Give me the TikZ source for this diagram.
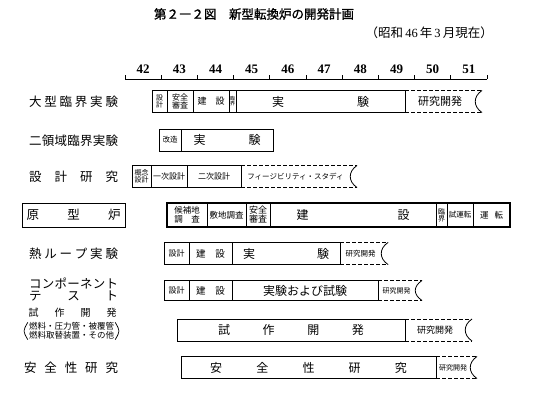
\documentclass[tikz,border=0pt]{standalone}
\usepackage{fontspec}
\setmainfont[AutoFakeBold=1.2]{Noto Sans CJK JP}
\newfontfamily\numfont{Liberation Serif}
\newcommand{\titlefont}{\fontsize{12.5}{14}\selectfont}
\newcommand{\labelfont}{\fontsize{12.5}{14}\selectfont}
\newcommand{\yearfont}{\numfont\bfseries\fontsize{13}{14}\selectfont}
\newcommand{\spread}[2]{\makebox[#1pt][s]{#2}}
\def\hh{11}
% one finished stage of a programme: name, row y, from x, to x, font size, text
\newcommand{\stage}[6]{%
  \draw[stageline] (#3,#2-\hh) rectangle (#4,#2+\hh);
  \node[stagetext,font=\fontsize{#5}{#5}\selectfont] (#1) at ({(#3+#4)/2},#2) {#6};
}
% open-ended stage, dashed with a torn end
\newcommand{\future}[6]{%
  \draw[futureline] (#3,#2-\hh) -- (#4,#2-\hh) (#3,#2+\hh) -- (#4,#2+\hh);
  \draw[stageline] (#4,#2-\hh) .. controls (#4-9,#2-\hh+6) and (#4-9,#2+\hh-6) .. (#4,#2+\hh);
  \node[stagetext,font=\fontsize{#5}{#5}\selectfont] (#1) at ({(#3+#4-7)/2},#2) {#6};
}

\begin{document}
\begin{tikzpicture}[x=1pt,y=-1pt,
  rowlabel/.style={inner sep=0pt,font=\labelfont},
  stagetext/.style={inner sep=0pt,align=center},
  stageline/.style={line width=0.8pt},
  futureline/.style={line width=0.8pt,dash pattern=on 4pt off 2pt}]
  \useasboundingbox (0,0) rectangle (548,406);

  \node[inner sep=0pt,font=\titlefont\bfseries] (title) at (254,14) {第２―２図　新型転換炉の開発計画};
  \node[anchor=east,inner sep=0pt,font=\titlefont] (date) at (493,33)
    {（昭和\,{\numfont 46}\,年\,{\numfont 3}\,月現在）};

  % year axis
  \draw[stageline] (125,79) -- (487,79);
  \foreach \i in {0,...,10}
    \draw[stageline] (125+36.2*\i,79) -- ++(0,-4);
  \foreach \yr [count=\i from 0] in {42,...,51}
    \node[inner sep=0pt,font=\yearfont] (yr\yr) at ({125+36.2*\i+18.1},69) {\yr};

  % large critical experiment
  \node[rowlabel] (lbl1) at (73.5,102) {\spread{89}{大\hfill 型\hfill 臨\hfill 界\hfill 実\hfill 験}};
  \stage{kdesign}{101.5}{152}{167}{7}{設\\計}
  \stage{ksafety}{101.5}{167}{193}{8}{安全\\審査}
  \stage{kbuild}{101.5}{193}{229}{9}{\spread{27}{建\hfill 設}}
  \stage{kcrit}{101.5}{229}{236}{5}{臨\\界}
  \stage{kexp}{101.5}{236}{405}{12}{\spread{97}{実\hfill 験}}
  \future{kdev}{101.5}{405}{482}{11}{研究開発}

  % two-region critical experiment
  \node[rowlabel] (lbl2) at (73.5,141) {\spread{89}{二\hfill 領\hfill 域\hfill 臨\hfill 界\hfill 実\hfill 験}};
  \stage{rmod}{140}{159}{181}{7.5}{改造}
  \stage{rexp}{140}{181}{273}{12}{\spread{67}{実\hfill 験}}

  % design study
  \node[rowlabel] (lbl3) at (73.5,177) {\spread{89}{設\hfill 計\hfill 研\hfill 究}};
  \stage{dconcept}{176.5}{132}{151}{7}{概念\\設計}
  \stage{dfirst}{176.5}{151}{187}{8}{一次設計}
  \stage{dsecond}{176.5}{187}{241}{8}{二次設計}
  \future{dstudy}{176.5}{241}{357}{7.5}{フィージビリティ・スタディ}

  % prototype reactor
  \def\hh{12}
  \node[rowlabel,draw,line width=1pt,minimum width=103,minimum height=24] (lbl4) at (73.5,215)
    {\spread{94}{原\hfill 型\hfill 炉}};
  \stage{psite}{215}{167}{207}{8.5}{候補地\\調　査}
  \stage{pground}{215}{207}{246}{8.5}{敷地調査}
  \stage{psafety}{215}{246}{270}{9}{安全\\審査}
  \stage{pbuild}{215}{270}{436}{12}{\spread{113}{建\hfill 設}}
  \stage{pcrit}{215}{436}{447}{7}{臨\\界}
  \stage{ptest}{215}{447}{473}{7.5}{試運転}
  \stage{prun}{215}{473}{510}{8.5}{\spread{23}{運\hfill 転}}
  \draw[line width=1.4pt] (167,203) rectangle (510,227);
  \def\hh{11}

  % heat loop experiment
  \node[rowlabel] (lbl5) at (73.5,253.5) {\spread{89}{熱\hfill ル\hfill ー\hfill プ\hfill 実\hfill 験}};
  \stage{ldesign}{253.5}{164}{189}{8}{設計}
  \stage{lbuild}{253.5}{189}{232}{9.5}{\spread{29}{建\hfill 設}}
  \stage{lexp}{253.5}{232}{340}{12}{\spread{86}{実\hfill 験}}
  \future{ldev}{253.5}{340}{388}{7.5}{研究開発}

  % component test
  \def\hh{10}
  \node[rowlabel] (lbl6a) at (73.5,283.5) {\spread{89}{コ\hfill ン\hfill ポ\hfill ー\hfill ネ\hfill ン\hfill ト}};
  \node[rowlabel] (lbl6b) at (73.5,296) {\spread{89}{テ\hfill ス\hfill ト}};
  \stage{cdesign}{290.5}{164}{189}{8}{設計}
  \stage{cbuild}{290.5}{189}{232}{9.5}{\spread{29}{建\hfill 設}}
  \stage{cexp}{290.5}{232}{378}{12}{実験および試験}
  \future{cdev}{290.5}{378}{422}{7}{研究開発}
  \def\hh{11}

  % fabrication development
  \node[inner sep=0pt,font=\fontsize{10}{10}\selectfont] (lbl7a) at (72.5,313)
    {\spread{88}{試\hfill 作\hfill 開\hfill 発}};
  \node[inner sep=0pt,align=center,font=\fontsize{8.5}{9}\selectfont] (lbl7b) at (71.5,331)
    {燃料・圧力管・被覆管\\燃料取替装置・その他};
  \draw[line width=0.7pt] ([xshift=-1]lbl7b.north west) .. controls ([xshift=-6]lbl7b.west) .. ([xshift=-1]lbl7b.south west);
  \draw[line width=0.7pt] ([xshift=1]lbl7b.north east) .. controls ([xshift=6]lbl7b.east) .. ([xshift=1]lbl7b.south east);
  \stage{fproto}{330}{177}{405}{12}{\spread{146}{試\hfill 作\hfill 開\hfill 発}}
  \future{fdev}{330}{405}{472}{9}{研究開発}

  % safety research
  \node[rowlabel] (lbl8) at (71,367.5) {\spread{94}{安\hfill 全\hfill 性\hfill 研\hfill 究}};
  \stage{sstudy}{367.5}{181}{436}{12}{\spread{197}{安\hfill 全\hfill 性\hfill 研\hfill 究}}
  \future{sdev}{367.5}{436}{477}{7}{研究開発}
\end{tikzpicture}
\end{document}
